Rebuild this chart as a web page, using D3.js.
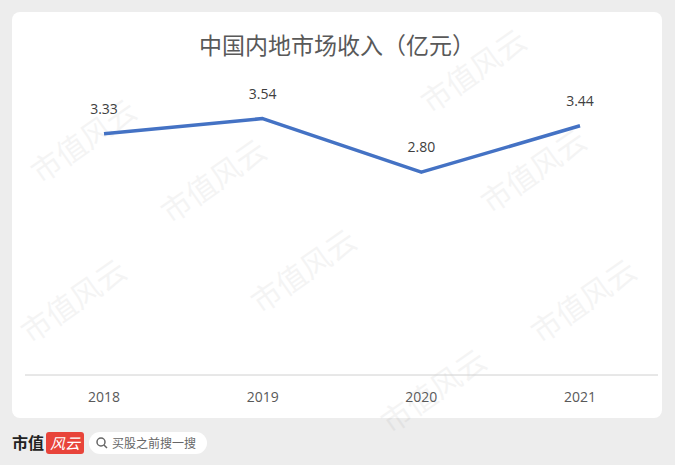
<!DOCTYPE html>
<html><head><meta charset="utf-8">
<script src="https://cdn.jsdelivr.net/npm/d3@7"></script>
<style>body{margin:0;background:#ededed;font-family:"Noto Sans CJK SC","Open Sans",sans-serif}</style>
</head><body>
<svg id="c" width="675" height="465"></svg>
<script>
const categories=["2018","2019","2020","2021"];
const values=[3.33,3.54,2.80,3.44];
const labels=["3.33","3.54","2.80","3.44"];
const title="中国内地市场收入（亿元）";
const svg=d3.select("#c");
svg.append("rect").attr("width",675).attr("height",465).attr("fill","#ededed");
svg.append("rect").attr("x",12).attr("y",12).attr("width",650).attr("height",406).attr("rx",8).attr("fill","#fff");
const x=d3.scalePoint().domain(categories).range([104,580]);
const y=d3.scaleLinear().domain([0,4.5]).range([375,49]);
// watermarks
[[90,150],[220,190],[480,80],[540,180],[80,310],[310,280],[590,310],[440,400]].forEach(([a,b])=>{
 svg.append("text").attr("transform",`translate(${a},${b}) rotate(-35)`).attr("font-size",30).attr("fill","#000").attr("opacity",0.04).attr("text-anchor","middle").text("市值风云");
});
svg.append("text").attr("x",337).attr("y",54).attr("text-anchor","middle").attr("font-size",23).attr("fill","#595959").text(title);
svg.append("line").attr("x1",25).attr("x2",658).attr("y1",375).attr("y2",375).attr("stroke","#d0d0d0");
svg.append("g").selectAll("text").data(categories).join("text").attr("x",d=>x(d)).attr("y",402).attr("text-anchor","middle").attr("font-size",14).attr("fill","#595959").attr("font-family","Open Sans").text(d=>d);
svg.append("path").datum(values).attr("fill","none").attr("stroke","#4472c4").attr("stroke-width",3.5).attr("stroke-linejoin","round")
 .attr("d",d3.line().x((d,i)=>x(categories[i])).y(d=>y(d)));
svg.append("g").selectAll("text").data(values).join("text").attr("x",(d,i)=>x(categories[i])).attr("y",d=>y(d)-20).attr("text-anchor","middle").attr("font-size",14).attr("fill","#404040").attr("font-family","Open Sans").text((d,i)=>labels[i]);
// footer
svg.append("text").attr("x",12).attr("y",449).attr("font-size",16).attr("font-weight","bold").attr("fill","#222").text("市值");
svg.append("rect").attr("x",46).attr("y",432).attr("width",38).attr("height",22).attr("rx",3).attr("fill","#e8443a");
svg.append("text").attr("x",65).attr("y",449).attr("text-anchor","middle").attr("font-size",15).attr("font-style","italic").attr("fill","#fff").text("风云");
svg.append("rect").attr("x",89).attr("y",432).attr("width",118).attr("height",22).attr("rx",11).attr("fill","#fff");
svg.append("circle").attr("cx",101).attr("cy",442).attr("r",4).attr("fill","none").attr("stroke","#666").attr("stroke-width",1.5);
svg.append("line").attr("x1",104).attr("y1",445).attr("x2",107).attr("y2",448).attr("stroke","#666").attr("stroke-width",1.5);
svg.append("text").attr("x",112).attr("y",448).attr("font-size",12).attr("fill","#666").text("买股之前搜一搜");
</script></body></html>
